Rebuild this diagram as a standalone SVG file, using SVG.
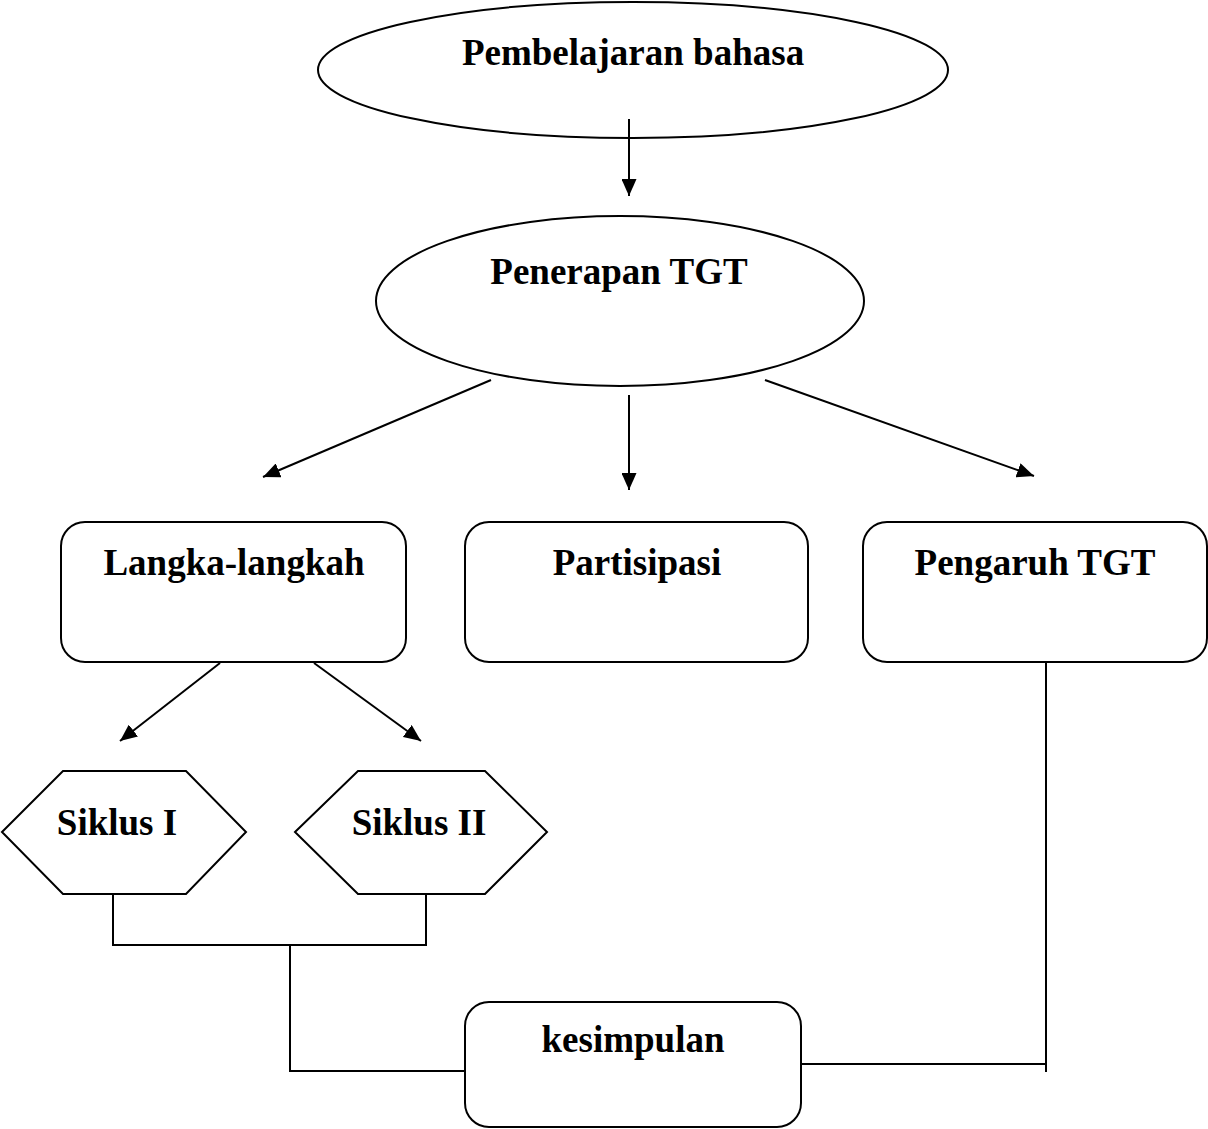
<svg xmlns="http://www.w3.org/2000/svg" width="1208" height="1129" viewBox="0 0 1208 1129">
<defs>
<marker id="ah" markerWidth="17" markerHeight="15" refX="17" refY="7.5" orient="auto" markerUnits="userSpaceOnUse" viewBox="0 0 17 15">
<path d="M0,0 L17,7.5 L0,15 Z" fill="#000"/>
</marker>
<style>
.s{fill:#fff;stroke:#000;stroke-width:2}
.t{font-family:"Liberation Serif","Times New Roman",serif;font-weight:bold;font-size:37px;text-anchor:middle;fill:#000}
.c{fill:none;stroke:#000;stroke-width:2}
.a{fill:none;stroke:#000;stroke-width:2;marker-end:url(#ah)}
</style>
</defs>
<rect width="1208" height="1129" fill="#fff"/>
<g id="n1"><ellipse class="s" cx="633" cy="70" rx="315" ry="68"/><text class="t" x="633" y="65">Pembelajaran bahasa</text></g>
<g id="n2"><ellipse class="s" cx="620" cy="301" rx="244" ry="85"/><text class="t" x="619" y="284">Penerapan TGT</text></g>
<g id="n3"><rect class="s" x="61" y="522" width="345" height="140" rx="24"/><text class="t" x="234" y="575">Langka-langkah</text></g>
<g id="n4"><rect class="s" x="465" y="522" width="343" height="140" rx="24"/><text class="t" x="637" y="575">Partisipasi</text></g>
<g id="n5"><rect class="s" x="863" y="522" width="344" height="140" rx="24"/><text class="t" x="1035" y="575">Pengaruh TGT</text></g>
<g id="n6"><polygon class="s" points="2,832 63,771 186,771 246,832 186,894 63,894"/><text class="t" x="117" y="835">Siklus I</text></g>
<g id="n7"><polygon class="s" points="295,832 358,771 485,771 547,832 485,894 358,894"/><text class="t" x="419" y="835">Siklus II</text></g>
<g id="n8"><rect class="s" x="465" y="1002" width="336" height="125" rx="24"/><text class="t" x="633" y="1052">kesimpulan</text></g>
<g id="connectors">
<line class="a" x1="629" y1="119" x2="629" y2="196"/>
<line class="a" x1="491" y1="380" x2="263" y2="477"/>
<line class="a" x1="629" y1="395" x2="629" y2="490"/>
<line class="a" x1="765" y1="380" x2="1034" y2="476"/>
<line class="a" x1="220" y1="663" x2="120" y2="741"/>
<line class="a" x1="314" y1="663" x2="421" y2="741"/>
<polyline class="c" points="113,894 113,945 426,945 426,894"/>
<polyline class="c" points="290,945 290,1071 465,1071"/>
<polyline class="c" points="801,1064 1046,1064"/>
<line class="c" x1="1046" y1="662" x2="1046" y2="1072"/>
</g>
</svg>
